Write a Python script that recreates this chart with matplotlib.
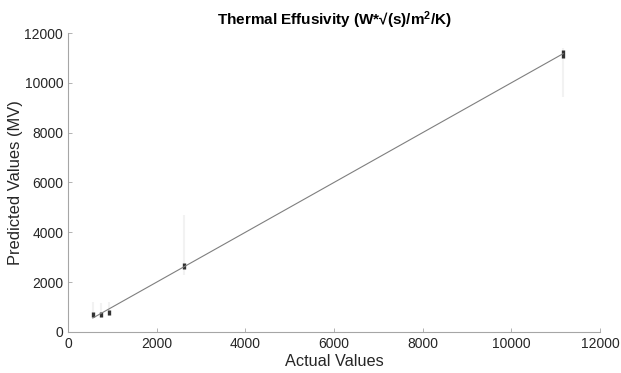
import numpy as np
import matplotlib
matplotlib.use("Agg")
import matplotlib.pyplot as plt

plt.rcParams['font.family'] = ['Liberation Sans', 'DejaVu Sans']
plt.rcParams['mathtext.default'] = 'regular'

# actual values of the five materials and their predicted values (MV)
actual = [564, 737, 932, 2617, 11170]
pred_1 = [560, 590, 610, 630, 650, 660, 670, 680, 690, 700, 710, 720, 740, 760, 780, 800,
          850, 900, 950, 1000, 1100, 1200]
pred_2 = [580, 610, 630, 650, 670, 680, 690, 700, 710, 720, 740, 760, 780, 800, 850, 900,
          950, 1000, 1080, 1150]
pred_3 = [650, 680, 700, 720, 740, 760, 780, 800, 820, 840, 860, 880, 900, 940, 980, 1050,
          1100, 1150, 1200]
pred_4 = [2300, 2450, 2500, 2550, 2580, 2600, 2620, 2640, 2660, 2680, 2700, 2720, 2750,
          2800, 2900, 3000, 3200, 3400, 3600, 3800, 4100, 4400, 4700]
pred_5 = [9430, 9800, 10100, 10400, 10600, 10800, 10900, 11000, 11050, 11100, 11130, 11160,
          11190, 11220, 11250, 11280, 11320, 11400]
preds = [pred_1, pred_2, pred_3, pred_4, pred_5]
# range where most of the predictions pile up
core_lo = [600, 620, 680, 2520, 11000]
core_hi = [800, 800, 900, 2760, 11320]

fit_x = [560, 11170]
fit_y = [560, 11170]

fig = plt.figure(figsize=(6.21, 3.73), dpi=100)
ax = fig.add_axes([0.1095, 0.11, 0.8565, 0.8015])

for a, p in zip(actual, preds):
    p = np.sort(np.array(p))
    # faint smear over the full spread of predictions
    ax.vlines(np.full(len(p) - 1, a), p[:-1], p[1:], color='black', alpha=0.05, lw=1.5)
ax.vlines(actual, core_lo, core_hi, color='black', alpha=0.8, lw=2.4)

ax.plot(fit_x, fit_y, color='#7f7f7f', lw=0.8)

ax.set_xlim(0, 12000)
ax.set_ylim(0, 12000)
ax.set_xticks(range(0, 12001, 2000))
ax.set_yticks(range(0, 12001, 2000))
ax.spines['top'].set_visible(False)
ax.spines['right'].set_visible(False)
for s in ['left', 'bottom']:
    ax.spines[s].set_color('#a6a6a6')
    ax.spines[s].set_linewidth(0.8)
ax.tick_params(direction='in', length=3, width=0.6, color='#a6a6a6',
               labelcolor='#262626', labelsize=10)

ax.set_xlabel('Actual Values', fontsize=11.7, color='#262626', labelpad=2)
ax.set_ylabel('Predicted Values (MV)', fontsize=11.9, color='#262626', labelpad=1)
ax.set_title('Thermal Effusivity (W*\u221a(s)/m$^{2}$/K)', fontsize=11,
             fontweight='bold', color='black', pad=6)

fig.savefig('out.png', dpi=100)
